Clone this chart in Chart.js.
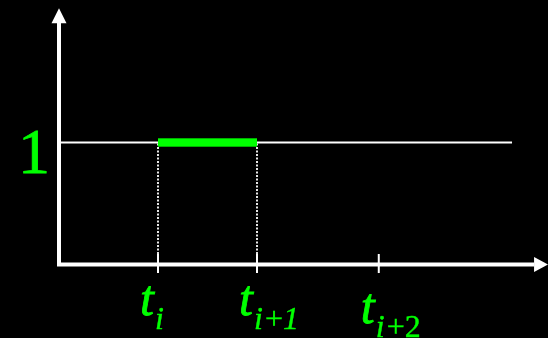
<!DOCTYPE html>
<html>
<head>
<meta charset="utf-8">
<script src="https://cdn.jsdelivr.net/npm/chart.js@4/dist/chart.umd.min.js"></script>
<style>
  html, body { margin: 0; padding: 0; background: #000; }
  #wrap { width: 548px; height: 338px; }
</style>
</head>
<body>
<div id="wrap"><canvas id="c" width="548" height="338"></canvas></div>
<script>
// ---- data ----
const knots = [1, 2, 3.23];                 // t_i, t_{i+1}, t_{i+2}
const knotSubscripts = ['i', 'i+1', 'i+2'];
const levelValue = 1;                        // height of the basis function
const levelLineEnd = 4.576;                  // white line at y = 1 ends here
const basisStart = 1;                        // green segment from t_i ...
const basisEnd = 2;                          // ... to t_{i+1}
const xAxisEnd = 4.94;                       // arrow tip of x axis
const yAxisEnd = 2.10;                       // arrow tip of y axis
const yTickLabel = '1';

// scale extents (so that x=0 sits on the y axis and y=0 on the x axis)
const xMin = -59 / 99, xMax = xMin + 548 / 99;
const yMin = -73.5 / 122, yMax = yMin + 338 / 122;

const GREEN = '#00ff00';
const labelDrop = [0, 0, 8];   // vertical shift of each knot label (px)

const datasets = [
  { data: [{x: 0, y: levelValue}, {x: levelLineEnd, y: levelValue}],
    borderColor: '#ffffff', borderWidth: 2, order: 4 },
  { data: [{x: knots[0], y: 0}, {x: knots[0], y: levelValue}],
    borderColor: '#ffffff', borderWidth: 1.8, borderDash: [2, 1.5], order: 3 },
  { data: [{x: knots[1], y: 0}, {x: knots[1], y: levelValue}],
    borderColor: '#ffffff', borderWidth: 1.8, borderDash: [2, 1.5], order: 3 },
  { data: [{x: basisStart, y: levelValue}, {x: basisEnd, y: levelValue}],
    borderColor: '#00b000', borderWidth: 9, order: 2 },
  { data: [{x: basisStart, y: levelValue}, {x: basisEnd, y: levelValue}],
    borderColor: GREEN, borderWidth: 7, order: 1 }
].map(d => Object.assign({ pointRadius: 0, fill: false, tension: 0,
  borderCapStyle: 'butt', clip: false }, d));

const decor = {
  id: 'decor',
  beforeDraw(chart) {
    const ctx = chart.ctx;
    ctx.save();
    ctx.fillStyle = '#000';
    ctx.fillRect(0, 0, chart.width, chart.height);
    ctx.restore();
  },
  afterDatasetsDraw(chart) {
    const ctx = chart.ctx;
    const xs = chart.scales.x, ys = chart.scales.y;
    const x0 = xs.getPixelForValue(0), y0 = ys.getPixelForValue(0);
    const xEnd = xs.getPixelForValue(xAxisEnd), yEnd = ys.getPixelForValue(yAxisEnd);
    ctx.save();
    ctx.fillStyle = '#ffffff';
    // y axis
    ctx.fillRect(x0 - 2, yEnd + 14, 4, y0 + 2 - (yEnd + 14));
    ctx.beginPath();
    ctx.moveTo(x0, yEnd);
    ctx.lineTo(x0 - 7.5, yEnd + 15);
    ctx.lineTo(x0 + 7.5, yEnd + 15);
    ctx.closePath();
    ctx.fill();
    // x axis
    ctx.fillRect(x0 + 2, y0 - 2, xEnd - 14 - (x0 + 2), 4);
    ctx.beginPath();
    ctx.moveTo(xEnd, y0);
    ctx.lineTo(xEnd - 14, y0 - 7.5);
    ctx.lineTo(xEnd - 14, y0 + 7.5);
    ctx.closePath();
    ctx.fill();
    // ticks
    ctx.strokeStyle = '#ffffff';
    ctx.lineWidth = 2;
    knots.forEach(k => {
      const px = xs.getPixelForValue(k);
      ctx.beginPath();
      ctx.moveTo(px, ys.getPixelForValue(0.086));
      ctx.lineTo(px, ys.getPixelForValue(-0.07));
      ctx.stroke();
    });
    // tick labels t_sub
    ctx.fillStyle = GREEN;
    ctx.strokeStyle = GREEN;
    ctx.lineWidth = 0.8;
    ctx.textBaseline = 'alphabetic';
    ctx.textAlign = 'left';
    knots.forEach((k, i) => {
      const px = xs.getPixelForValue(k);
      const dy = labelDrop[i];
      ctx.font = 'italic 50px "Liberation Serif", "DejaVu Serif", serif';
      const tx = px - 18;
      ctx.fillText('t', tx, 315 + dy);
      ctx.strokeText('t', tx, 315 + dy);
      let sx = tx + 15;
      const sub = knotSubscripts[i];
      for (const ch of sub) {
        const italic = (ch === 'i' || ch === '1');
        ctx.font = (italic ? 'italic ' : '') + '32px "Liberation Serif", "DejaVu Serif", serif';
        ctx.fillText(ch, sx, 329 + dy);
        ctx.lineWidth = 0.4;
        ctx.strokeText(ch, sx, 329 + dy);
        sx += ctx.measureText(ch).width + (ch === 'i' ? 2 : 0);
      }
      ctx.lineWidth = 0.8;
    });
    // y label
    ctx.textAlign = 'center';
    ctx.font = '64px "Liberation Serif", "DejaVu Serif", serif';
    ctx.fillText(yTickLabel, 34, ys.getPixelForValue(levelValue) + 30);
    ctx.lineWidth = 0.8;
    ctx.strokeText(yTickLabel, 34, ys.getPixelForValue(levelValue) + 30);
    ctx.restore();
  }
};

new Chart(document.getElementById('c'), {
  type: 'line',
  data: { datasets },
  options: {
    responsive: false,
    animation: false,
    events: [],
    layout: { padding: 0 },
    plugins: { legend: { display: false }, tooltip: { enabled: false } },
    scales: {
      x: { type: 'linear', min: xMin, max: xMax, display: false },
      y: { type: 'linear', min: yMin, max: yMax, display: false }
    }
  },
  plugins: [decor]
});
</script>
</body>
</html>
